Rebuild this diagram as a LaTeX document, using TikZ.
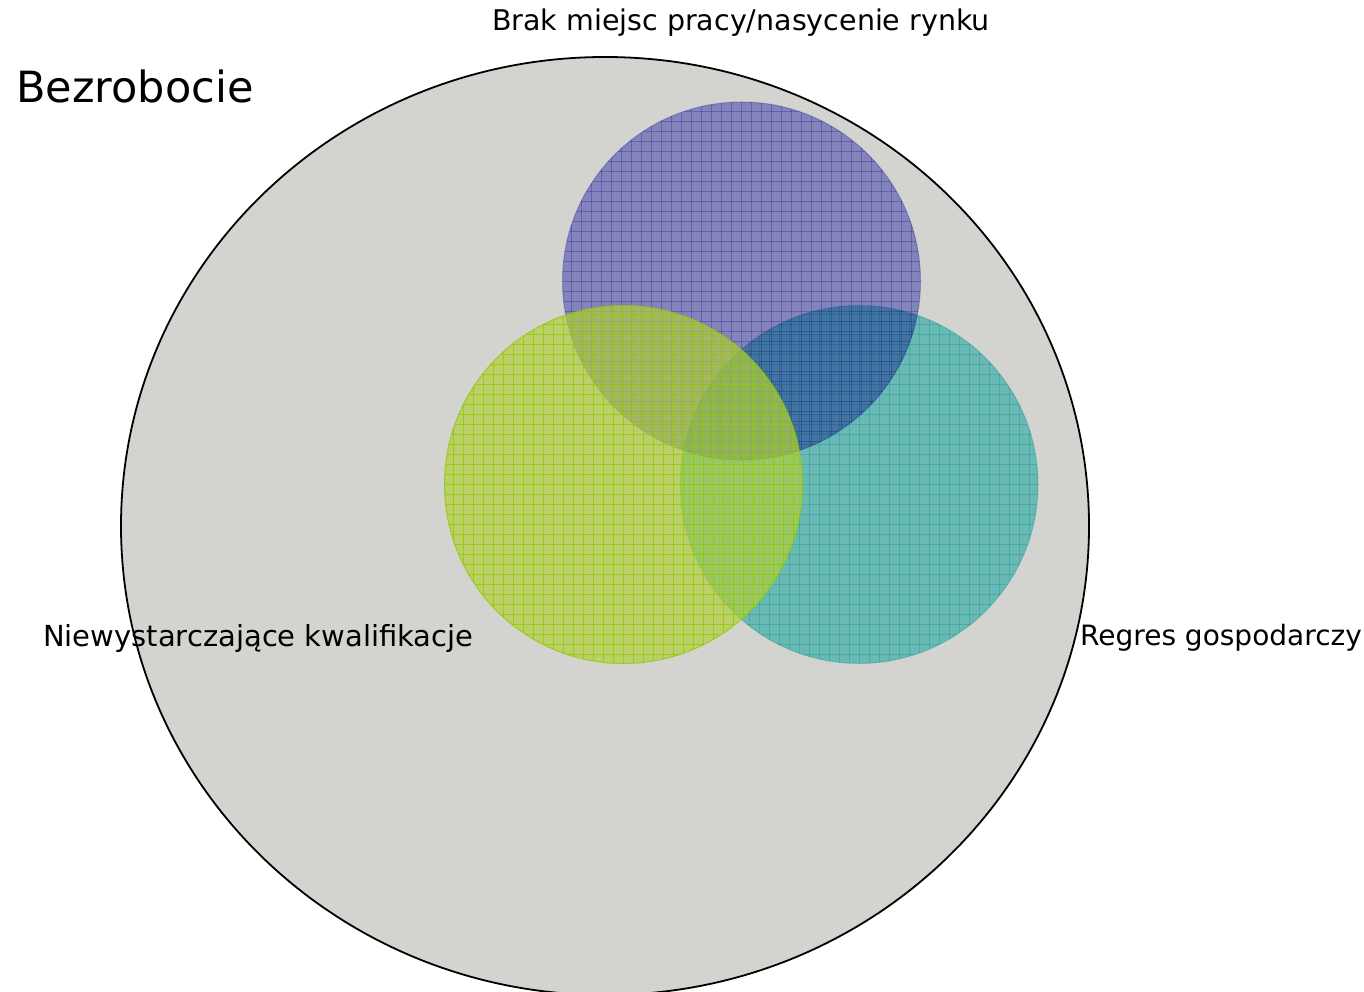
\documentclass[tikz,border=0pt]{standalone}
\usepackage{fontspec}
\setmainfont{DejaVu Sans}
\begin{document}
\begin{tikzpicture}[x=1pt,y=-1pt,
  lbl/.style={inner sep=0pt, font=\fontsize{28}{32}\selectfont},
  gridl/.style={line width=0.8pt}]
\useasboundingbox (0,0) rectangle (1364,992);
\definecolor{bg}{RGB}{211,211,207}
\definecolor{cblue}{RGB}{160,160,230}
\definecolor{cblueL}{RGB}{190,190,245}
\definecolor{cgreen}{RGB}{178,207,63}
\definecolor{cgreenL}{RGB}{145,200,0}
\definecolor{cteal}{RGB}{128,225,222}
\definecolor{ctealL}{RGB}{185,235,235}
\newcommand{\vennc}[6]{% center x, center y, fill, line, fill mode, line mode
  \begin{scope}[#5]
  \fill[#3] (#1,#2) circle (179);
  \end{scope}
  \begin{scope}[#6]
  \begin{scope}
  \clip (#1,#2) circle (179);
  \foreach \k in {-18,...,18} {
    \draw[#4, gridl] ({#1+10*\k},{#2-185}) -- ({#1+10*\k},{#2+185});
    \draw[#4, gridl] ({#1-185},{#2+10*\k}) -- ({#1+185},{#2+10*\k});
  }
  \end{scope}
  \draw[#4, line width=1pt] (#1,#2) circle (179);
  \end{scope}}
\begin{scope}
\clip (0,0) rectangle (1364,992);
\draw[fill=bg, line width=1.8pt] (605,526) ellipse [x radius=484, y radius=469];
\end{scope}
\vennc{741.5}{281}{cblue}{cblueL}{blend mode=multiply}{blend mode=multiply}
\vennc{859}{484.5}{cteal}{ctealL}{blend mode=multiply}{blend mode=multiply}
\vennc{623.5}{484.5}{cgreen}{cgreenL}{opacity=0.7}{opacity=0.75}
\node[lbl, font=\fontsize{43}{48}\selectfont, anchor=west] (title) at (16,86) {Bezrobocie};
\node[lbl, font=\fontsize{28.5}{32}\selectfont] (top) at (741,23) {Brak miejsc pracy/nasycenie rynku};
\node[lbl, font=\fontsize{29}{32}\selectfont, anchor=west] (left) at (43,638) {Niewystarczające kwalifikacje};
\node[lbl, anchor=west] (right) at (1080,638) {Regres gospodarczy};
\end{tikzpicture}
\end{document}
